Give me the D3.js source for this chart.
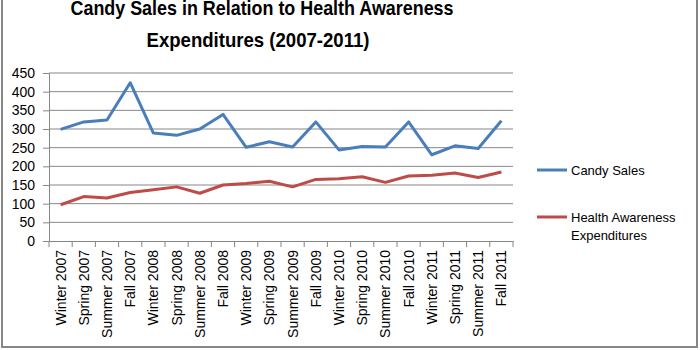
<!DOCTYPE html>
<html>
<head>
<meta charset="utf-8">
<script src="https://cdn.jsdelivr.net/npm/d3@7"></script>
<style>
  body { margin: 0; background: #fff; }
  svg { font-family: "Liberation Sans", Arial, sans-serif; }
</style>
</head>
<body>
<div id="chart"></div>
<script>
// Categories (quarters)
var seasons = ['Winter 2007','Spring 2007','Summer 2007','Fall 2007',
  'Winter 2008','Spring 2008','Summer 2008','Fall 2008',
  'Winter 2009','Spring 2009','Summer 2009','Fall 2009',
  'Winter 2010','Spring 2010','Summer 2010','Fall 2010',
  'Winter 2011','Spring 2011','Summer 2011','Fall 2011']

// Series values
var candySales = [299, 319, 324, 424, 289, 283, 300, 339, 251, 266, 252, 319, 244, 253, 252, 319, 231, 255, 248, 322]
var healthSpend = [97, 119, 115, 130, 137, 145, 128, 150, 154, 160, 145, 165, 167, 172, 157, 174, 176, 182, 170, 185]

var yTicks = [0, 50, 100, 150, 200, 250, 300, 350, 400, 450]
var seriesNames = ['Candy Sales', 'Health Awareness Expenditures']
var colors = ['#4a7ebb', '#be4b48']

var W = 700, H = 350
var margin = {top: 73, right: 187, bottom: 109, left: 49}
var width = W - margin.left - margin.right
var height = H - margin.top - margin.bottom

var xScale = d3.scaleBand().domain(seasons).range([0, width])
var yScale = d3.scaleLinear().domain([0, 450]).range([height, 0])

var svg = d3.select('#chart').append('svg')
  .attr('width', W)
  .attr('height', H)

// outer chart border
svg.append('rect')
  .attr('x', 2).attr('y', -5)
  .attr('width', 695).attr('height', 352)
  .attr('fill', 'none')
  .attr('stroke', '#868686')
  .attr('stroke-width', 2)

// title (top line sits partly above the frame, like the original)
svg.append('text')
  .attr('x', 262).attr('y', 15)
  .attr('text-anchor', 'middle')
  .style('font-family', '"Liberation Sans Narrow", "Liberation Sans", sans-serif')
  .style('font-size', '21px').style('font-weight', 'bold')
  .attr('textLength', 383).attr('lengthAdjust', 'spacingAndGlyphs')
  .text('Candy Sales in Relation to Health Awareness')
svg.append('text')
  .attr('x', 258).attr('y', 47)
  .attr('text-anchor', 'middle')
  .style('font-family', '"Liberation Sans Narrow", "Liberation Sans", sans-serif')
  .style('font-size', '21px').style('font-weight', 'bold')
  .attr('textLength', 223).attr('lengthAdjust', 'spacingAndGlyphs')
  .text('Expenditures (2007-2011)')

var viewport = svg.append('g')
  .attr('transform', 'translate(' + margin.left + ',' + margin.top + ')')

// gridlines
viewport.append('g')
  .selectAll('line')
  .data(yTicks.filter(d => d > 0))
  .enter().append('line')
  .attr('x1', 0).attr('x2', width)
  .attr('y1', d => yScale(d)).attr('y2', d => yScale(d))
  .attr('stroke', '#868686')
  .attr('stroke-width', 1)

// y axis
var yAxis = viewport.append('g')
  .call(d3.axisLeft(yScale).tickValues(yTicks).tickSize(6).tickPadding(8))
yAxis.select('.domain').attr('stroke', '#868686')
yAxis.selectAll('.tick line').attr('stroke', '#868686')
yAxis.selectAll('text').style('font-size', '14px').attr('fill', '#000')

// x axis: labels rotated, tick marks between categories
var xAxis = viewport.append('g')
  .attr('transform', 'translate(0,' + height + ')')
  .call(d3.axisBottom(xScale).tickSize(0).tickPadding(0))
xAxis.select('.domain').attr('stroke', '#868686')
xAxis.selectAll('text')
  .style('font-size', '14px').attr('fill', '#000')
  .attr('transform', 'rotate(-90)')
  .attr('text-anchor', 'end')
  .attr('x', -9).attr('y', 0).attr('dy', '0.35em')

xAxis.selectAll('.boundary')
  .data(seasons.concat(['end']))
  .enter().append('line')
  .attr('class', 'boundary')
  .attr('x1', (d, i) => i * xScale.step()).attr('x2', (d, i) => i * xScale.step())
  .attr('y1', 0).attr('y2', 6)
  .attr('stroke', '#868686')

// lines
var line = d3.line()
  .x((d, i) => xScale(seasons[i]) + xScale.bandwidth() / 2)
  .y(d => yScale(d))

;[candySales, healthSpend].forEach((s, k) => {
  viewport.append('path')
    .datum(s)
    .attr('d', line)
    .attr('fill', 'none')
    .attr('stroke', colors[k])
    .attr('stroke-width', 3)
    .attr('stroke-linejoin', 'round')
})

// legend
var legend = svg.append('g')
  .attr('transform', 'translate(537,170)')

legend.append('line')
  .attr('x1', 0).attr('x2', 30).attr('y1', 0).attr('y2', 0)
  .attr('stroke', colors[0]).attr('stroke-width', 3)
legend.append('text')
  .attr('x', 34).attr('y', 5)
  .style('font-size', '13px')
  .text(seriesNames[0])

legend.append('line')
  .attr('x1', 0).attr('x2', 30).attr('y1', 47).attr('y2', 47)
  .attr('stroke', colors[1]).attr('stroke-width', 3)
legend.append('text')
  .attr('x', 34).attr('y', 52)
  .style('font-size', '13px')
  .text('Health Awareness')
legend.append('text')
  .attr('x', 34).attr('y', 70)
  .style('font-size', '13px')
  .text('Expenditures')
</script>
</body>
</html>
